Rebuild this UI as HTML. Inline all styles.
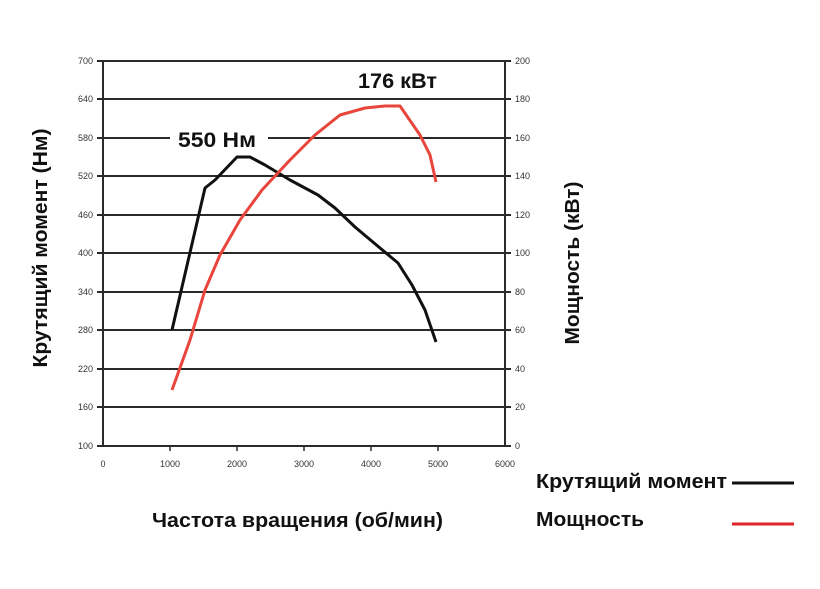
<!DOCTYPE html><html><head><meta charset="utf-8"><style>
body{margin:0;background:#fff;}
</style></head><body>
<svg width="820" height="584" xmlns="http://www.w3.org/2000/svg" font-family="Liberation Sans, sans-serif">
<rect width="820" height="584" fill="#fff"/>
<g stroke="#2a2a2a" stroke-width="2">
<line x1="97" y1="61" x2="511" y2="61"/>
<line x1="97" y1="99" x2="511" y2="99"/>
<line x1="97" y1="138" x2="170" y2="138"/><line x1="268" y1="138" x2="511" y2="138"/>
<line x1="97" y1="176" x2="511" y2="176"/>
<line x1="97" y1="215" x2="511" y2="215"/>
<line x1="97" y1="253" x2="511" y2="253"/>
<line x1="97" y1="292" x2="511" y2="292"/>
<line x1="97" y1="330" x2="511" y2="330"/>
<line x1="97" y1="369" x2="511" y2="369"/>
<line x1="97" y1="407" x2="511" y2="407"/>
<line x1="97" y1="446" x2="511" y2="446"/>
<line x1="103" y1="61" x2="103" y2="446"/>
<line x1="505" y1="61" x2="505" y2="446"/>
</g>
<g stroke="#2a2a2a" stroke-width="1.5">
<line x1="170" y1="446" x2="170" y2="451"/><line x1="237" y1="446" x2="237" y2="451"/><line x1="304" y1="446" x2="304" y2="451"/><line x1="371" y1="446" x2="371" y2="451"/><line x1="438" y1="446" x2="438" y2="451"/>
</g>
<g font-size="9" fill="#333" text-anchor="end">
<text x="93" y="64">700</text><text x="93" y="102">640</text><text x="93" y="141">580</text><text x="93" y="179">520</text><text x="93" y="218">460</text><text x="93" y="256">400</text><text x="93" y="295">340</text><text x="93" y="333">280</text><text x="93" y="372">220</text><text x="93" y="410">160</text><text x="93" y="449">100</text>
</g>
<g font-size="9" fill="#333">
<text x="515" y="64">200</text><text x="515" y="102">180</text><text x="515" y="141">160</text><text x="515" y="179">140</text><text x="515" y="218">120</text><text x="515" y="256">100</text><text x="515" y="295">80</text><text x="515" y="333">60</text><text x="515" y="372">40</text><text x="515" y="410">20</text><text x="515" y="449">0</text>
</g>
<g font-size="9" fill="#333" text-anchor="middle">
<text x="103" y="467">0</text><text x="170" y="467">1000</text><text x="237" y="467">2000</text><text x="304" y="467">3000</text><text x="371" y="467">4000</text><text x="438" y="467">5000</text><text x="505" y="467">6000</text>
</g>
<polyline fill="none" stroke="#111" stroke-width="3" stroke-linejoin="round" points="172,330 205,188 215,180 237,157 250,157 265,165 290,180 318,195 335,208 355,227 380,248 398,263 412,285 425,310 436,342"/>
<polyline fill="none" stroke="#e8453c" stroke-width="3" stroke-linejoin="round" points="172,390 190,340 205,290 220,255 240,220 262,190 290,160 315,135 340,115 365,108 385,106 400,106 420,135 430,155 436,182"/>
<text x="178" y="147" font-size="21" font-weight="bold" fill="#111" textLength="78" lengthAdjust="spacingAndGlyphs">550 Нм</text>
<text x="358" y="88" font-size="21" font-weight="bold" fill="#111" textLength="79" lengthAdjust="spacingAndGlyphs">176 кВт</text>
<text transform="translate(47,248) rotate(-90)" text-anchor="middle" font-size="20" font-weight="bold" fill="#111" textLength="239" lengthAdjust="spacingAndGlyphs">Крутящий момент (Нм)</text>
<text transform="translate(579,263) rotate(-90)" text-anchor="middle" font-size="20" font-weight="bold" fill="#111" textLength="163" lengthAdjust="spacingAndGlyphs">Мощность (кВт)</text>
<text x="152" y="527" font-size="20" font-weight="bold" fill="#111" textLength="291" lengthAdjust="spacingAndGlyphs">Частота вращения (об/мин)</text>
<text x="536" y="488" font-size="20" font-weight="bold" fill="#111" textLength="191" lengthAdjust="spacingAndGlyphs">Крутящий момент</text>
<line x1="732" y1="483" x2="794" y2="483" stroke="#111" stroke-width="3"/>
<text x="536" y="526" font-size="20" font-weight="bold" fill="#111" textLength="108" lengthAdjust="spacingAndGlyphs">Мощность</text>
<line x1="732" y1="524" x2="794" y2="524" stroke="#e0252a" stroke-width="3"/>
</svg>
</body></html>
